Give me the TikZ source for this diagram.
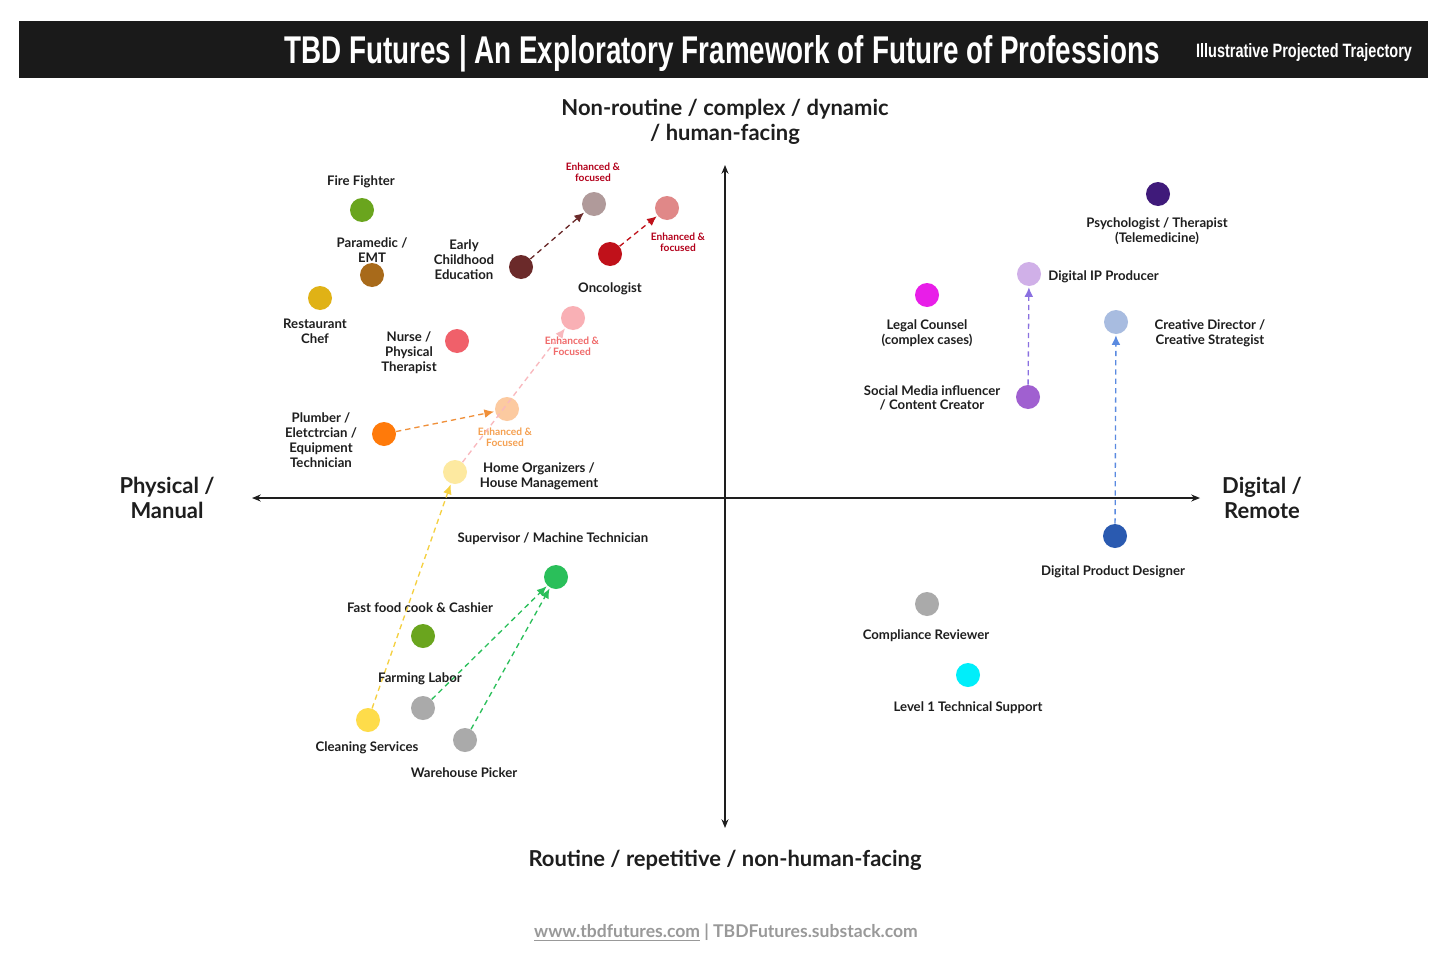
\documentclass[tikz,border=0pt]{standalone}
\usepackage{fontspec}
\setmainfont{Lato}
\newfontfamily\titlefont[FakeStretch=0.72]{Liberation Sans}
\newfontfamily\subfont[FakeStretch=0.75]{Liberation Sans}
\usetikzlibrary{arrows.meta}
\definecolor{bar}{HTML}{1A1A1A}
\definecolor{txt}{HTML}{1E1E1E}
\definecolor{cFire}{HTML}{6AA51E}
\definecolor{cPara}{HTML}{A86A1A}
\definecolor{cChef}{HTML}{E0B216}
\definecolor{cEarly}{HTML}{6B2A2A}
\definecolor{cEarlyE}{HTML}{B09A9A}
\definecolor{cOnco}{HTML}{C0111A}
\definecolor{cOncoE}{HTML}{E08888}
\definecolor{cNurse}{HTML}{F0606A}
\definecolor{cNurseE}{HTML}{F9B0B5}
\definecolor{cPlumb}{HTML}{FF7A0A}
\definecolor{cPlumbE}{HTML}{FCCAA0}
\definecolor{cHome}{HTML}{FDE9A0}
\definecolor{cSup}{HTML}{2ABF5A}
\definecolor{cGray}{HTML}{AAAAAA}
\definecolor{cClean}{HTML}{FEDC4A}
\definecolor{cPsy}{HTML}{3F1A7A}
\definecolor{cDIP}{HTML}{D0B0E8}
\definecolor{cLegal}{HTML}{E81EE8}
\definecolor{cCreat}{HTML}{A8BCE0}
\definecolor{cSocial}{HTML}{A060D0}
\definecolor{cDPD}{HTML}{2A5AB0}
\definecolor{cL1}{HTML}{00EEFA}
\definecolor{redlbl}{HTML}{B3001B}
\definecolor{pinklbl}{HTML}{F06A6A}
\definecolor{orangelbl}{HTML}{F5A050}
\definecolor{aPink}{HTML}{F9B8BD}
\definecolor{aOrange}{HTML}{F0903A}
\definecolor{aYellow}{HTML}{F5D040}
\definecolor{aGreen}{HTML}{2ABF5A}
\definecolor{aPurple}{HTML}{8A70E0}
\definecolor{aBlue}{HTML}{5A8AE0}
\definecolor{foot}{HTML}{999999}
\begin{document}
\begin{tikzpicture}[x=0.02cm,y=-0.02cm,
  dot/.style={circle,minimum size=0.48cm,inner sep=0pt,draw=none,fill=#1},
  lbl/.style={font=\fontsize{7.5}{8.5}\selectfont\bfseries,text=txt,align=center,inner sep=0pt,yshift=-1.1pt},
  enh/.style={font=\fontsize{5.8}{6.4}\selectfont\bfseries,text=#1,align=center,inner sep=0pt},
  axlbl/.style={font=\fontsize{12.5}{13.8}\selectfont\bfseries,text=txt,align=center,inner sep=0pt,yshift=-1.1pt},
  traj/.style={draw=#1,dash pattern=on 3pt off 2.3pt,line width=0.75pt,-{Latex[length=5.5pt,width=5pt]},shorten >=0.5pt},
  axis/.style={draw=txt,line width=0.7pt,{Stealth[length=5pt,width=4pt]}-{Stealth[length=5pt,width=4pt]}}]
\useasboundingbox (0,0) rectangle (1456,970);
\fill[white] (0,0) rectangle (1456,970);
% title bar
\fill[bar] (19,21) rectangle (1428,78);
\node[text=white,font=\titlefont\fontsize{22}{24}\selectfont\bfseries,inner sep=0pt,yshift=-1.7pt] (title) at (722,51) {TBD Futures | An Exploratory Framework of Future of Professions};
\node[text=white,font=\subfont\fontsize{11}{12}\selectfont\bfseries,inner sep=0pt,yshift=-1.1pt] (subtitle) at (1304,51) {Illustrative Projected Trajectory};
% axes
\coordinate (xl) at (252,498); \coordinate (xr) at (1200,498);
\coordinate (yt) at (725,165); \coordinate (yb) at (725,828);
\draw[axis] (xl) -- (xr);
\draw[axis] (yt) -- (yb);
\node[axlbl] (top) at (725,120) {Non-routine / complex / dynamic\\/ human-facing};
\node[axlbl] (left) at (167,496) {Physical /\\Manual};
\node[axlbl] (right) at (1262,496) {Digital /\\Remote};
\node[axlbl] (bottom) at (725,858) {Routine / repetitive / non-human-facing};
\node[font=\fontsize{10}{11}\selectfont\bfseries,text=foot,inner sep=0pt,yshift=-1.1pt] (footer) at (726,931) {\underline{www.tbdfutures.com} | TBDFutures.substack.com};
% dots upper-left
\node[dot=cFire] (fire) at (362,210) {};
\node[lbl] (fireL) at (361,180) {Fire Fighter};
\node[dot=cPara] (para) at (372,275) {};
\node[lbl] (paraL) at (372,248) {Paramedic /\\EMT};
\node[dot=cChef] (chef) at (320,298) {};
\node[lbl] (chefL) at (315,329) {Restaurant\\Chef};
\node[dot=cEarly] (early) at (521,267) {};
\node[lbl] (earlyL) at (464,258) {Early\\Childhood\\Education};
\node[dot=cEarlyE] (earlyE) at (594,204) {};
\node[enh=redlbl] (earlyEL) at (593,172.5) {Enhanced \&\\focused};
\node[dot=cOnco] (onco) at (610,254) {};
\node[lbl] (oncoL) at (610,287) {Oncologist};
\node[dot=cOncoE] (oncoE) at (667,208) {};
\node[enh=redlbl] (oncoEL) at (678,242.5) {Enhanced \&\\focused};
\node[dot=cNurse] (nurse) at (457,341) {};
\node[lbl] (nurseL) at (409,351) {Nurse /\\Physical\\Therapist};
\node[dot=cNurseE] (nurseE) at (573,318) {};
\node[enh=pinklbl] (nurseEL) at (572,346.5) {Enhanced \&\\Focused};
\node[dot=cPlumb] (plumb) at (384,434) {};
\node[lbl] (plumbL) at (321,438) {Plumber /\\Eletctrcian /\\Equipment\\Technician};
\node[dot=cPlumbE] (plumbE) at (507,409) {};
\node[enh=orangelbl] (plumbEL) at (505,437.5) {Enhanced \&\\Focused};
\node[dot=cHome] (home) at (455,472) {};
\node[lbl] (homeL) at (539,474.5) {Home Organizers /\\House Management};
% lower-left
\node[lbl] (supL) at (553,537) {Supervisor / Machine Technician};
\node[dot=cSup] (sup) at (556,577) {};
\node[lbl] (fastL) at (420,606) {Fast food cook \& Cashier};
\node[dot=cFire] (fast) at (423,636) {};
\node[dot=cGray] (farm) at (423,708) {};
\node[dot=cClean] (clean) at (368,720) {};
\node[lbl] (cleanL) at (367,746) {Cleaning Services};
\node[dot=cGray] (ware) at (465,740) {};
\node[lbl] (wareL) at (464,771) {Warehouse Picker};
% right side
\node[dot=cPsy] (psy) at (1158,194) {};
\node[lbl] (psyL) at (1157,229) {Psychologist / Therapist\\(Telemedicine)};
\node[dot=cDIP] (dip) at (1029,274) {};
\node[lbl,anchor=west] (dipL) at (1048,275) {Digital IP Producer};
\node[dot=cLegal] (legal) at (927,295) {};
\node[lbl] (legalL) at (927,331) {Legal Counsel\\(complex cases)};
\node[dot=cCreat] (creat) at (1116,322) {};
\node[lbl] (creatL) at (1210,331) {Creative Director /\\Creative Strategist};
\node[dot=cSocial] (social) at (1028,397) {};
\node[lbl] (socialL) at (932,396) {Social Media influencer\\/ Content Creator};
\node[dot=cDPD] (dpd) at (1115,536) {};
\node[lbl] (dpdL) at (1113,570) {Digital Product Designer};
\node[dot=cGray] (comp) at (927,604) {};
\node[lbl] (compL) at (926,634) {Compliance Reviewer};
\node[dot=cL1] (l1) at (968,675) {};
\node[lbl] (l1L) at (968,706) {Level 1 Technical Support};
% trajectories
\draw[traj=cEarly] (early) -- (earlyE);
\draw[traj=cOnco] (onco) -- (oncoE);
\draw[traj=aOrange] (plumb) -- (plumbE);
\draw[traj=aPink] (home) -- (nurseE);
\draw[traj=aYellow] (clean) -- (home);
\draw[traj=aGreen] (farm) -- (sup);
\draw[traj=aGreen] (ware) -- (sup);
\draw[traj=aPurple] (social) -- (dip);
\draw[traj=aBlue] (dpd) -- (creat);
\node[lbl] (farmL) at (420,677) {Farming Labor};
\end{tikzpicture}
\end{document}
